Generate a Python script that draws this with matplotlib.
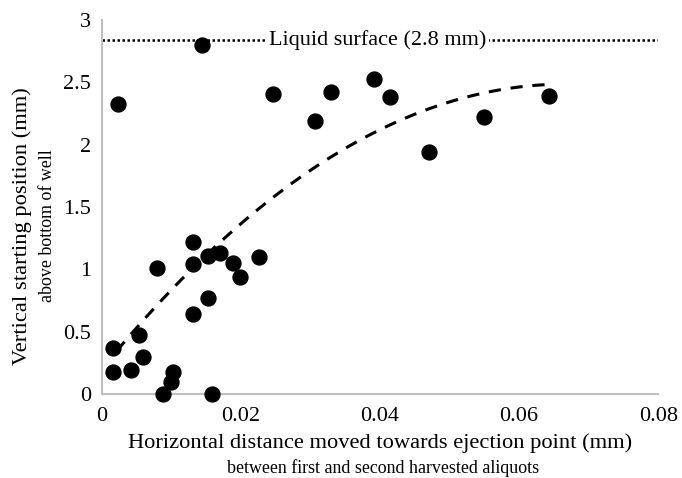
import numpy as np
import matplotlib
matplotlib.use('Agg')
import matplotlib.pyplot as plt

plt.rcParams['font.family'] = ['Liberation Serif', 'DejaVu Serif']

# horizontal distance moved (mm) and vertical starting position (mm)
dist_x = [0.0016, 0.0016, 0.0023, 0.0042, 0.0053, 0.0059, 0.0079, 0.0088,
          0.0099, 0.0102, 0.0131, 0.0131, 0.0131, 0.0144, 0.0153, 0.0153,
          0.0158, 0.0170, 0.0188, 0.0199, 0.0226, 0.0246, 0.0306, 0.0329,
          0.0391, 0.0414, 0.0470, 0.0550, 0.0643]
start_y = [0.37, 0.18, 2.33, 0.19, 0.47, 0.30, 1.01, 0.00,
           0.10, 0.18, 1.22, 1.04, 0.64, 2.80, 1.11, 0.77,
           0.00, 1.13, 1.05, 0.94, 1.10, 2.41, 2.19, 2.42,
           2.53, 2.38, 1.94, 2.22, 2.39]
surface_level = 2.84
surface_label = 'Liquid surface (2.8 mm)'

fig = plt.figure(figsize=(6.82, 4.78), dpi=100)
ax = fig.add_axes([0.1496, 0.1757, 0.8154, 0.7824])

ax.scatter(dist_x, start_y, s=115, color='black', zorder=3, clip_on=False)

# 2nd order polynomial trendline
coef = np.polyfit(dist_x, start_y, 2)
xx = np.linspace(min(dist_x) + 0.0005, max(dist_x), 100)
ax.plot(xx, np.polyval(coef, xx), color='black', lw=2.2, dashes=(4, 3.2))

ax.axhline(surface_level, color='black', lw=1.8, ls=(0, (1, 1)), zorder=2)
ax.text(0.0397, surface_level, surface_label, ha='center', va='center',
        fontsize=16, bbox=dict(facecolor='white', edgecolor='none', pad=2), zorder=2.5)

ax.set_xlim(0, 0.08)
ax.set_ylim(0, 3)
ax.set_xticks([0, 0.02, 0.04, 0.06, 0.08])
ax.set_xticklabels(['0', '0.02', '0.04', '0.06', '0.08'])
ax.set_yticks([0, 0.5, 1, 1.5, 2, 2.5, 3])
ax.set_yticklabels(['0', '0.5', '1', '1.5', '2', '2.5', '3'])
ax.tick_params(length=0, labelsize=16)
ax.tick_params(axis='x', pad=9)
ax.tick_params(axis='y', pad=8)
for s in ['top', 'right']:
    ax.spines[s].set_visible(False)
for s in ['left', 'bottom']:
    ax.spines[s].set_color('#bfbfbf')
    ax.spines[s].set_linewidth(1.5)

fig.text(0.557, 0.073, 'Horizontal distance moved towards ejection point (mm)',
         ha='center', va='center', fontsize=16.2)
fig.text(0.562, 0.021, 'between first and second harvested aliquots',
         ha='center', va='center', fontsize=12.9)
fig.text(0.032, 0.527, 'Vertical starting position (mm)', rotation=90,
         ha='center', va='center', fontsize=16.2)
fig.text(0.069, 0.527, 'above bottom of well', rotation=90,
         ha='center', va='center', fontsize=12.9)

plt.savefig('out.png', dpi=100)
